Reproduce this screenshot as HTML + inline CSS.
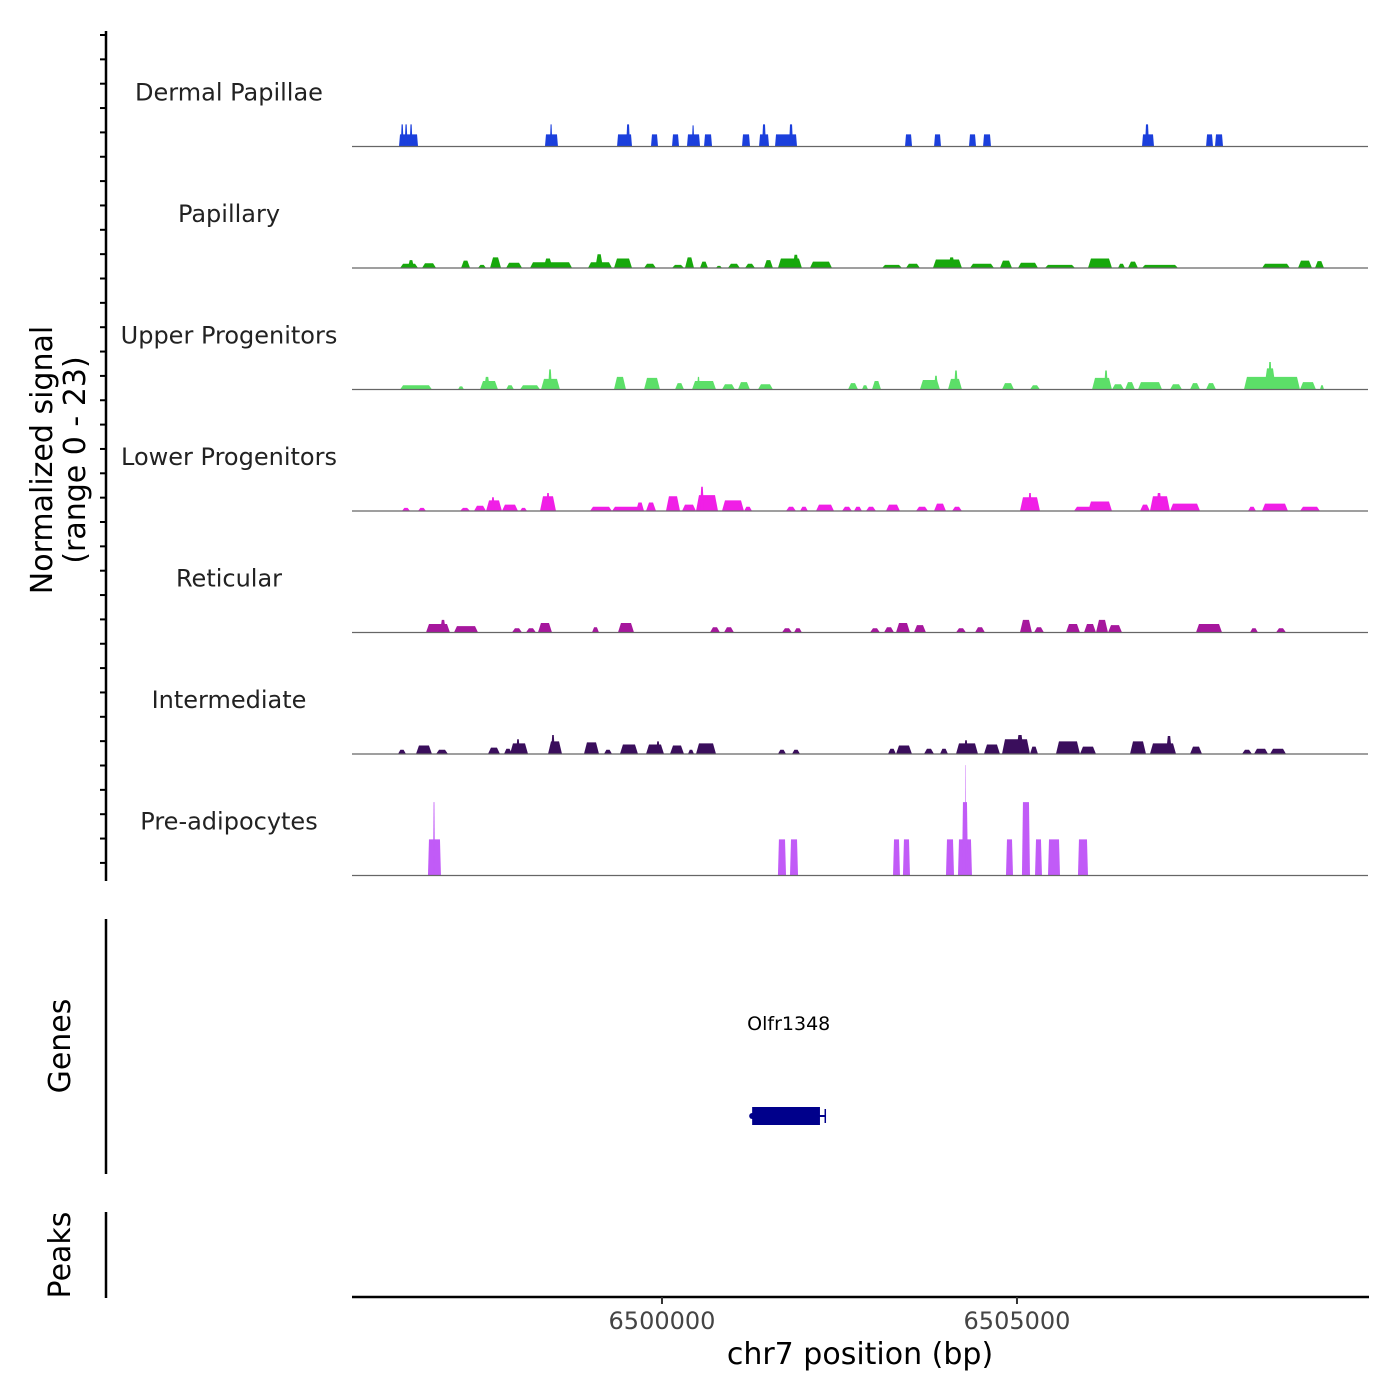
<!DOCTYPE html>
<html><head><meta charset="utf-8"><style>
html,body{margin:0;padding:0;background:#fff;}
svg{display:block;font-family:"DejaVu Sans","Liberation Sans",sans-serif;}
</style></head><body>
<svg id="chart" width="1400" height="1400" viewBox="0 0 1400 1400">
<g id="tracks"></g>
<g>
<line x1="106" y1="31" x2="106" y2="881" stroke="#000" stroke-width="2.5"/>
<g id="yticks"></g>
</g>
<text transform="translate(52,460) rotate(-90)" text-anchor="middle" font-size="30" fill="#000">Normalized signal</text>
<text transform="translate(85,460) rotate(-90)" text-anchor="middle" font-size="30" fill="#000">(range 0 - 23)</text>
<line x1="106" y1="919" x2="106" y2="1174" stroke="#000" stroke-width="2.5"/>
<text transform="translate(70,1046) rotate(-90)" text-anchor="middle" font-size="30" fill="#000">Genes</text>
<line x1="106" y1="1212" x2="106" y2="1298" stroke="#000" stroke-width="2.5"/>
<text transform="translate(70,1255) rotate(-90)" text-anchor="middle" font-size="30" fill="#000">Peaks</text>
<g id="gene"></g>
<g>
<line x1="352" y1="1297" x2="1369" y2="1297" stroke="#000" stroke-width="2.5"/>
<g id="xticks"></g>
</g>
<text x="860" y="1364" text-anchor="middle" font-size="30" fill="#000">chr7 position (bp)</text>
</svg>
<script>
const regionStart = 6495634;
const regionEnd = 6509944;
const yMax = 23;
const trackNames = ["Dermal Papillae","Papillary","Upper Progenitors","Lower Progenitors","Reticular","Intermediate","Pre-adipocytes"];
const trackColors = ["#1b3fdc","#17a80c","#5cdf68","#f01fe6","#a6179d","#3a0e5c","#c15bf7"];
const xTickValues = [6500000, 6505000];
const xTickLabels = ["6500000", "6505000"];
const geneName = "Olfr1348";
const geneStart = 6501270;
const geneEnd = 6502225;
const geneTxEnd = 6502300;

const dermalPapillae = [[6496296,6496564,2.3],[6496320,6496362,4.2],[6496375,6496417,4.2],[6496445,6496487,4.2],
[6498352,6498535,2.3],[6498420,6498456,4.2],[6499367,6499578,2.3],[6499495,6499550,4.2],[6499845,6499944,2.3],
[6500141,6500240,2.3],[6500352,6500536,2.3],[6500420,6500456,4.0],[6500592,6500705,2.3],[6501127,6501240,2.3],
[6501367,6501508,2.3],[6501409,6501465,4.2],[6501592,6501902,2.3],[6501789,6501846,4.2],[6503423,6503522,2.3],
[6503832,6503930,2.3],[6504324,6504423,2.3],[6504522,6504634,2.3],[6506761,6506930,2.3],[6506803,6506860,4.2],
[6507663,6507761,2.3],[6507789,6507902,2.3]];
const papillary = [[6496311,6496564,0.8],[6496420,6496510,1.5],[6496620,6496818,0.9],[6497170,6497297,1.4],[6497409,6497522,0.6],
[6497578,6497733,2.0],[6497804,6498029,1.0],[6498141,6498733,1.1],[6498330,6498460,1.8],[6498958,6499296,1.1],[6499060,6499170,2.6],
[6499324,6499578,1.8],[6499747,6499916,0.8],[6500141,6500310,0.6],[6500324,6500451,2.0],[6500535,6500648,1.2],[6500760,6500845,0.4],
[6500929,6501098,0.8],[6501169,6501310,0.8],[6501436,6501563,1.5],[6501633,6501971,1.8],[6501840,6501930,2.5],[6502084,6502394,1.2],
[6503099,6503380,0.6],[6503436,6503633,0.8],[6503816,6504225,1.6],[6504030,6504130,2.0],[6504338,6504676,0.8],[6504760,6504930,1.4],
[6505014,6505296,1.0],[6505394,6505817,0.6],[6506000,6506338,1.8],[6506423,6506521,0.8],[6506563,6506704,1.2],[6506761,6507268,0.6],
[6508451,6508845,0.8],[6508958,6509155,1.4],[6509197,6509324,1.3]];
const upperProgenitors = [[6496311,6496760,0.8],[6497127,6497211,0.6],[6497437,6497690,1.6],[6497493,6497578,2.4],[6497804,6497915,0.8],
[6498000,6498282,0.8],[6498296,6498563,2.0],[6498395,6498451,3.8],[6499324,6499493,2.4],[6499747,6499972,2.2],[6500183,6500310,1.2],
[6500423,6500761,1.6],[6500493,6500535,2.4],[6500845,6501028,1.0],[6501070,6501239,1.4],[6501352,6501563,1.0],[6502620,6502761,1.2],
[6502817,6502902,0.8],[6502958,6503085,1.6],[6503633,6503916,1.8],[6503831,6503887,2.6],[6504028,6504225,2.0],[6504113,6504169,3.6],
[6504789,6504958,1.2],[6505183,6505324,0.8],[6506057,6506338,2.2],[6506226,6506282,3.6],[6506338,6506507,1.0],[6506521,6506662,1.4],
[6506704,6507043,1.4],[6507155,6507324,1.0],[6507437,6507578,1.2],[6507662,6507803,1.2],[6508197,6508986,2.4],[6508479,6508648,4.0],
[6508536,6508592,5.2],[6508986,6509211,1.4],[6509268,6509324,0.8]];
const lowerProgenitors = [[6496338,6496451,0.6],[6496564,6496676,0.6],[6497155,6497297,0.6],[6497352,6497522,1.0],[6497522,6497746,2.0],
[6497591,6497648,2.6],[6497746,6497972,1.2],[6498000,6498099,0.6],[6498282,6498507,2.8],[6498366,6498423,3.4],[6498986,6499296,0.8],
[6499296,6499747,0.8],[6499634,6499747,1.6],[6499775,6499916,1.6],[6500056,6500254,2.8],[6500282,6500479,1.2],[6500479,6500789,3.0],
[6500535,6500592,4.6],[6500845,6501155,2.0],[6501155,6501268,0.8],[6501747,6501887,0.8],[6501944,6502056,0.8],[6502169,6502423,1.2],
[6502535,6502676,0.8],[6502704,6502817,0.8],[6502873,6503014,0.8],[6503155,6503352,1.2],[6503578,6503747,0.8],[6503831,6504000,1.4],
[6504085,6504225,0.8],[6505042,6505324,2.6],[6505155,6505211,3.4],[6505803,6506057,0.8],[6506000,6506338,1.8],[6506733,6506873,1.2],
[6506873,6507155,2.8],[6506958,6507043,3.4],[6507155,6507578,1.4],[6508254,6508366,0.8],[6508451,6508817,1.4],[6508986,6509268,0.8]];
const reticular = [[6496676,6497014,1.6],[6496873,6496958,2.4],[6497070,6497409,1.2],[6497887,6498029,0.8],[6498084,6498225,0.8],
[6498253,6498451,1.8],[6499014,6499113,1.0],[6499380,6499606,1.8],[6500676,6500817,1.0],[6500873,6501014,1.0],[6501690,6501831,0.8],
[6501859,6501971,0.8],[6502930,6503070,0.8],[6503127,6503268,1.0],[6503296,6503493,1.8],[6503549,6503718,1.4],[6504141,6504282,0.8],
[6504409,6504549,1.0],[6505042,6505211,2.4],[6505240,6505380,1.0],[6505690,6505887,1.6],[6505944,6506113,1.6],[6506113,6506282,2.4],
[6506282,6506479,1.4],[6507521,6507888,1.6],[6508282,6508394,0.8],[6508648,6508789,0.8]];
const intermediate = [[6496282,6496394,0.8],[6496535,6496760,1.6],[6496818,6496986,0.8],[6497549,6497718,1.2],[6497775,6497887,1.0],
[6497859,6498113,2.0],[6497944,6498000,2.8],[6498395,6498592,2.4],[6498437,6498493,3.6],[6498901,6499113,2.2],[6499183,6499296,0.8],
[6499408,6499662,1.8],[6499775,6500028,1.8],[6499916,6499972,2.4],[6500113,6500310,1.6],[6500366,6500451,0.8],[6500479,6500761,2.0],
[6501633,6501747,0.8],[6501831,6501944,0.8],[6503183,6503296,1.0],[6503296,6503521,1.6],[6503690,6503831,1.0],[6503916,6504028,1.0],
[6504141,6504451,2.0],[6504254,6504310,2.6],[6504535,6504760,1.8],[6504789,6505183,2.8],[6504986,6505099,3.6],[6505183,6505296,1.4],
[6505549,6505887,2.4],[6505887,6506113,1.4],[6506592,6506817,2.4],[6506873,6507240,2.0],[6507099,6507183,3.4],[6507437,6507606,1.4],
[6508169,6508310,0.8],[6508338,6508536,1.0],[6508564,6508789,1.0]];
const preAdipocytes = [[6496704,6496887,6.85],[6496775,6496803,13.9],[6501633,6501747,6.85],[6501803,6501916,6.85],[6503254,6503352,6.85],
[6503394,6503493,6.85],[6504000,6504113,6.85],[6504169,6504366,6.85],[6504225,6504310,13.9],[6504268,6504282,20.9],[6504845,6504944,6.85],
[6505070,6505183,13.9],[6505254,6505352,6.85],[6505437,6505606,6.85],[6505859,6506000,6.85]];
const trackData = [dermalPapillae,papillary,upperProgenitors,lowerProgenitors,reticular,intermediate,preAdipocytes];

const NS = "http://www.w3.org/2000/svg";
const plotL = 352, plotR = 1368, trackTop = 25, trackH = 121.5;
function xScale(bp){ return plotL + (bp - regionStart) / (regionEnd - regionStart) * (plotR - plotL); }
function yScale(v, i){ const base = trackTop + (i + 1) * trackH; return base - v / yMax * trackH; }
function mk(tag, attrs){ const e = document.createElementNS(NS, tag); for (const k in attrs) e.setAttribute(k, attrs[k]); return e; }

const tracksG = document.getElementById("tracks");
trackData.forEach((peaks, i) => {
  const g = mk("g", {});
  
  
  tracksG.appendChild(g);
  const base = yScale(0, i);
  const lbl = mk("text", {x: 229, y: base - 46, "text-anchor": "middle", "font-size": 24, fill: "#222"});
  lbl.textContent = trackNames[i];
  
  
  g.appendChild(lbl);
  peaks.forEach(p => {
    const x0 = xScale(p[0]), x1 = xScale(p[1]), y = yScale(p[2], i);
    const w = x1 - x0;
    const t = Math.min(w * 0.3, (i === 0 || i === 6) ? 1 : 3);
    const poly = mk("polygon", {points: `${x0},${base} ${x0 + t},${y} ${x1 - t},${y} ${x1},${base}`, fill: trackColors[i]});
    
    
    g.appendChild(poly);
  });
  const bl = mk("line", {x1: plotL, x2: plotR, y1: base, y2: base, stroke: "#666", "stroke-width": 1.2});
  
  
  g.appendChild(bl);
});

const yt = document.getElementById("yticks");
for (let k = 0; k < 35; k++) {
  const y = 35 + k * 24.35;
  const t = mk("line", {x1: 100, x2: 106, y1: y, y2: y, stroke: "#000", "stroke-width": 2});
  
  
  yt.appendChild(t);
}

const xt = document.getElementById("xticks");
xTickValues.forEach((v, i) => {
  const x = xScale(v);
  const t = mk("line", {x1: x, x2: x, y1: 1297, y2: 1304, stroke: "#333", "stroke-width": 2});
  
  
  xt.appendChild(t);
  const l = mk("text", {x: x, y: 1329, "text-anchor": "middle", "font-size": 24, fill: "#444"});
  l.textContent = xTickLabels[i];
  
  
  xt.appendChild(l);
});

const gg = document.getElementById("gene");
const gx0 = xScale(geneStart), gx1 = xScale(geneEnd), gx2 = xScale(geneTxEnd);
const gl = mk("text", {x: (gx0 + gx2) / 2, y: 1030, "text-anchor": "middle", "font-size": 19, fill: "#000"});
gl.textContent = geneName;


gg.appendChild(gl);
const ln = mk("line", {x1: gx0, x2: gx2, y1: 1116, y2: 1116, stroke: "#00008b", "stroke-width": 2});


gg.appendChild(ln);
const ex = mk("rect", {x: gx0, y: 1107, width: gx1 - gx0, height: 18, fill: "#00008b"});


gg.appendChild(ex);
const tk = mk("line", {x1: gx2, x2: gx2, y1: 1109, y2: 1123, stroke: "#00008b", "stroke-width": 1.5});


gg.appendChild(tk);
const cap = mk("circle", {cx: gx0, cy: 1116, r: 3, fill: "#00008b"});


gg.appendChild(cap);
</script>
</body></html>
